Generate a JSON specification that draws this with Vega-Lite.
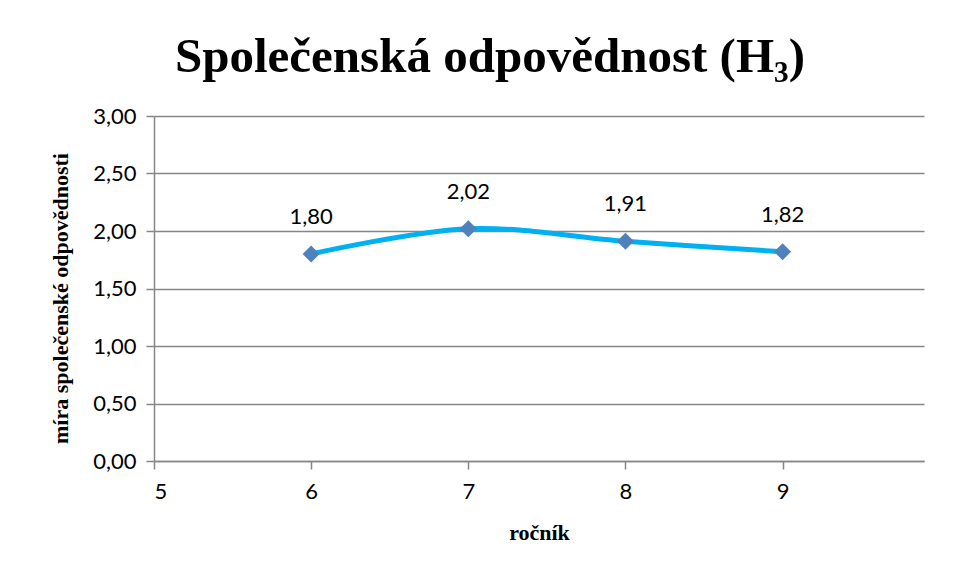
{
  "$schema": "https://vega.github.io/schema/vega-lite/v6.json",
  "autosize": {"type": "none"},
  "width": 770,
  "height": 345,
  "padding": {"left": 154, "top": 116, "right": 36, "bottom": 115},
  "background": "white",
  "config": {
    "locale": {"number": {"decimal": ",", "thousands": " ", "grouping": [3], "currency": ["", " Kč"]}},
    "view": {"stroke": null},
    "font": "Lato"
  },
  "title": {
    "text": "Společenská odpovědnost (H₃)",
    "font": "Liberation Serif",
    "fontSize": 49,
    "fontWeight": "bold",
    "color": "black",
    "anchor": "middle",
    "dx": -49,
    "offset": 23
  },
  "data": {
    "values": [
      {"rocnik": 6, "mira": 1.80},
      {"rocnik": 7, "mira": 2.02},
      {"rocnik": 8, "mira": 1.91},
      {"rocnik": 9, "mira": 1.82}
    ]
  },
  "encoding": {
    "x": {
      "field": "rocnik", "type": "quantitative",
      "scale": {"domain": [5, 9.9], "nice": false, "zero": false},
      "axis": {
        "title": "ročník", "values": [5, 6, 7, 8, 9], "format": "d",
        "grid": false, "domainColor": "#868686", "domainWidth": 1.5,
        "tickColor": "#868686", "tickSize": 8, "tickWidth": 1.5,
        "labelFont": "Lato", "labelFontSize": 22, "labelColor": "black", "labelPadding": 12,
        "titleFont": "Liberation Serif", "titleFontSize": 22, "titleFontWeight": "bold", "titleColor": "black", "titlePadding": 20
      }
    },
    "y": {
      "field": "mira", "type": "quantitative",
      "scale": {"domain": [0, 3], "nice": false},
      "axis": {
        "title": "míra společenské odpovědnosti", "values": [0, 0.5, 1, 1.5, 2, 2.5, 3], "format": ".2f",
        "grid": true, "gridColor": "#868686", "gridWidth": 1.5,
        "domainColor": "#868686", "domainWidth": 1.5,
        "tickColor": "#868686", "tickSize": 8, "tickWidth": 1.5,
        "labelFont": "Lato", "labelFontSize": 22, "labelColor": "black", "labelPadding": 10,
        "titleFont": "Liberation Serif", "titleFontSize": 22, "titleFontWeight": "bold", "titleColor": "black",
        "titleX": -94, "titleY": 182, "titleBaseline": "middle", "titleAlign": "center", "titleAngle": -90
      }
    }
  },
  "layer": [
    {"mark": {"type": "line", "interpolate": "catmull-rom", "color": "#00b0f0", "strokeWidth": 5}},
    {"mark": {"type": "point", "shape": "diamond", "filled": true, "size": 290, "color": "#4f81bd", "opacity": 1}},
    {
      "mark": {"type": "text", "dy": -37, "font": "Lato", "fontSize": 22, "color": "black"},
      "encoding": {"text": {"field": "mira", "type": "quantitative", "format": ".2f"}}
    }
  ]
}
